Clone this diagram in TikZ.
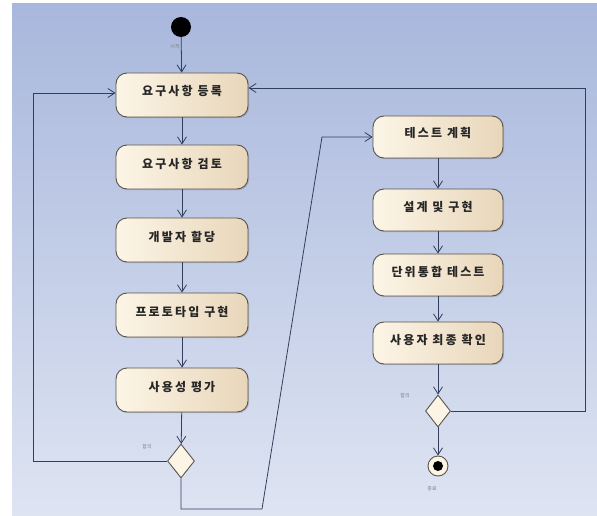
\documentclass[tikz,border=0pt]{standalone}
\usepackage{fontspec}
\newfontfamily\cjk{Noto Sans CJK KR}
\newfontfamily\cjksp{Noto Sans CJK KR}[LetterSpace=18]
\usetikzlibrary{arrows.meta,shapes.geometric,shadows}
\definecolor{bgtop}{RGB}{168,183,220}
\definecolor{bgbot}{RGB}{222,228,242}
\definecolor{edge}{RGB}{50,62,92}
\definecolor{boxl}{RGB}{252,245,230}
\definecolor{boxr}{RGB}{232,214,186}
\definecolor{boxline}{RGB}{90,84,76}
\tikzset{
  actbox/.style={draw=boxline, line width=0.9pt, rounded corners=11pt,
    left color=boxl, right color=boxr, minimum height=44pt, minimum width=132pt,
    text height=10pt, text depth=8pt,
    font=\cjksp\bfseries\fontsize{12}{14}\selectfont, text=black!85,
    drop shadow={shadow xshift=1.2pt, shadow yshift=-1.2pt, opacity=0.35}},
  decis/.style={diamond, draw=boxline, line width=0.9pt, fill=boxl,
    minimum width=27pt, minimum height=34pt, inner sep=0pt},
  flow/.style={draw=edge, line width=0.8pt, -{Straight Barb[length=7pt,width=9pt]}},
  tinylbl/.style={font=\cjk\fontsize{5}{6}\selectfont, text=gray}
}
\begin{document}
\begin{tikzpicture}[x=1pt,y=-1pt]
\useasboundingbox (0,0) rectangle (597,516);
\shade[top color=bgtop, bottom color=bgbot] (12,4) rectangle (597,516);
% start
\node[circle, fill=black, minimum size=20pt, inner sep=0pt] (st) at (181,27) {};
\node[tinylbl] (stl) at (175,47) {시작};
% left column
\node[actbox] (b1) at (182,95) {요구사항 등록};
\node[actbox] (b2) at (182,167) {요구사항 검토};
\node[actbox] (b3) at (182,240) {개발자 할당};
\node[actbox] (b4) at (182,315) {프로토타입 구현};
\node[actbox] (b5) at (182,390) {사용성 평가};
\node[decis] (d1) at (181,461) {};
\node[tinylbl] (d1l) at (147,447) {합의};
% right column
\node[actbox, minimum width=130pt, minimum height=42pt] (b6) at (438,137) {테스트 계획};
\node[actbox, minimum width=130pt, minimum height=42pt] (b7) at (438,210) {설계 및 구현};
\node[actbox, minimum width=130pt, minimum height=42pt] (b8) at (438,275) {단위통합 테스트};
\node[actbox, minimum width=130pt, minimum height=42pt] (b9) at (438,343) {사용자 최종 확인};
\node[decis, minimum width=25pt, minimum height=32pt] (d2) at (438,411) {};
\node[tinylbl] (d2l) at (405,396) {합의};
% end
\node[circle, draw=boxline, line width=0.9pt, fill=boxl, minimum size=20pt, inner sep=0pt] (en) at (438,466) {};
\node[circle, fill=black, minimum size=10pt, inner sep=0pt] (enc) at (en) {};
\node[tinylbl] (enl) at (432,489) {종료};
% coordinates
\coordinate (L1) at (33,461);
\coordinate (L2) at (33,93);
\coordinate (M1) at (181,509);
\coordinate (M2) at (262,509);
\coordinate (M3) at (322,137);
\coordinate (R1) at (585,411);
\coordinate (R2) at (585,88);
% flows
\draw[flow] (st) -- (b1);
\draw[flow] (b1) -- (b2);
\draw[flow] (b2) -- (b3);
\draw[flow] (b3) -- (b4);
\draw[flow] (b4) -- (b5);
\draw[flow] (b5) -- (d1);
\draw[flow] (d1.west) -- (L1) -- (L2) -- (L2 -| b1.west);
\draw[flow] (d1.south) -- (M1) -- (M2) -- (M3) -- (b6.west);
\draw[flow] (b6) -- (b7);
\draw[flow] (b7) -- (b8);
\draw[flow] (b8) -- (b9);
\draw[flow] (b9) -- (d2);
\draw[flow] (d2) -- (en);
\draw[flow] (d2.east) -- (R1) -- (R2) -- (R2 -| b1.east);
\end{tikzpicture}
\end{document}
